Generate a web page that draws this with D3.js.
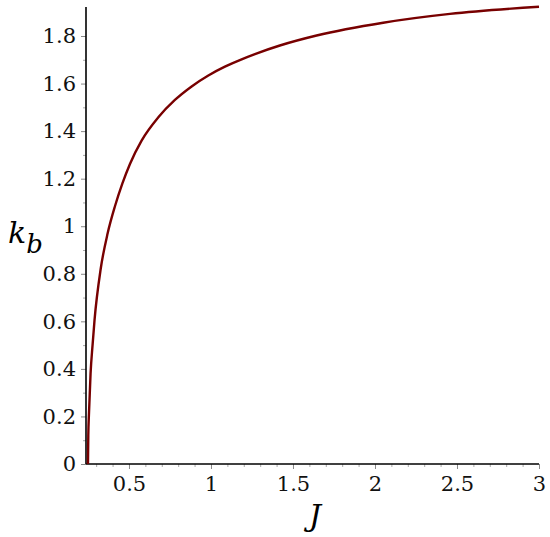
<!DOCTYPE html>
<html>
<head>
<meta charset="utf-8">
<script src="https://cdn.jsdelivr.net/npm/d3@7"></script>
<style>
  body { margin: 0; background: #fff; }
  .tick text { font-family: "DejaVu Serif", serif; font-size: 21px; fill: #111; }
  .domain { display: none; }
</style>
</head>
<body>
<svg width="550" height="537"></svg>
<script>
// values
var jValues = [0.25, 0.252, 0.256, 0.2658, 0.278, 0.29, 0.3275, 0.37, 0.415, 0.46, 0.506, 0.577, 0.679, 0.78, 0.882, 0.984, 1.085, 1.187, 1.268, 1.42, 1.644, 2.05, 2.457, 3.0];
var kValues = [0, 0.12, 0.21, 0.38, 0.50, 0.605, 0.82, 0.97, 1.085, 1.18, 1.262, 1.36, 1.458, 1.531, 1.588, 1.634, 1.671, 1.702, 1.724, 1.76, 1.802, 1.856, 1.893, 1.923];
var xTicks = [0.5, 1, 1.5, 2, 2.5, 3];
var yTicks = [0, 0.2, 0.4, 0.6, 0.8, 1, 1.2, 1.4, 1.6, 1.8];
var xMinor = [0.3, 0.4, 0.6, 0.7, 0.8, 0.9, 1.1, 1.2, 1.3, 1.4, 1.6, 1.7, 1.8, 1.9, 2.1, 2.2, 2.3, 2.4, 2.6, 2.7, 2.8, 2.9];
var yMinor = [0.1, 0.3, 0.5, 0.7, 0.9, 1.1, 1.3, 1.5, 1.7];

var svg = d3.select("svg");

var x = d3.scaleLinear().domain([0.238, 3]).range([86, 539]),
    y = d3.scaleLinear().domain([0, 1.922]).range([464, 7]);

var data = jValues.map(function(j, i) { return {j: j, k: kValues[i]}; });

// minor ticks
svg.append("g")
    .attr("transform", "translate(0,464)")
    .call(d3.axisBottom(x).tickValues(xMinor).tickSize(3).tickFormat(""))
    .selectAll("line").attr("stroke", "#aaa");
svg.append("g")
    .attr("transform", "translate(86,0)")
    .call(d3.axisLeft(y).tickValues(yMinor).tickSize(3).tickFormat(""))
    .selectAll("line").attr("stroke", "#aaa");

// major ticks
var gx = svg.append("g")
    .attr("transform", "translate(0,464)")
    .call(d3.axisBottom(x).tickValues(xTicks).tickSize(5).tickPadding(7).tickFormat(d3.format("")));
gx.selectAll("line").attr("stroke", "#888");

var gy = svg.append("g")
    .attr("transform", "translate(86,0)")
    .call(d3.axisLeft(y).tickValues(yTicks).tickSize(5).tickPadding(5).tickFormat(d3.format("")));
gy.selectAll("line").attr("stroke", "#888");

// axis lines
svg.append("line")
    .attr("x1", 86).attr("x2", 86).attr("y1", 7).attr("y2", 464)
    .attr("stroke", "#000").attr("stroke-width", 1.6);
svg.append("line")
    .attr("x1", 86).attr("x2", 539).attr("y1", 464).attr("y2", 464)
    .attr("stroke", "#000").attr("stroke-width", 1.6);

// the curve
var line = d3.line()
    .curve(d3.curveMonotoneX)
    .x(function(d) { return x(d.j); })
    .y(function(d) { return y(d.k); });

svg.append("path")
    .datum(data)
    .attr("fill", "none")
    .attr("stroke", "#780000")
    .attr("stroke-width", 2.4)
    .attr("d", line);

// axis titles
svg.append("text")
    .attr("x", 315).attr("y", 526)
    .attr("text-anchor", "middle")
    .style("font-family", "DejaVu Serif, serif")
    .style("font-style", "italic")
    .style("font-size", "30px")
    .text("J");

var kt = svg.append("text")
    .attr("x", 8).attr("y", 243)
    .style("font-family", "DejaVu Serif, serif")
    .style("font-style", "italic")
    .style("font-size", "30px");
kt.append("tspan").text("k");
kt.append("tspan").attr("dy", 10).style("font-size", "26px").text("b");
</script>
</body>
</html>
